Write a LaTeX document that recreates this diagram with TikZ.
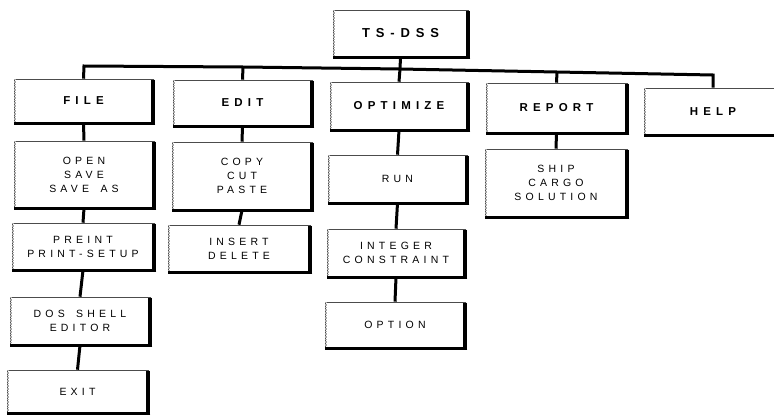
\documentclass[tikz,border=0pt]{standalone}
\usepackage{fontspec}
\newfontfamily\lab[LetterSpace=40,WordSpace=1.6]{Liberation Sans}
\newfontfamily\labB[LetterSpace=45,WordSpace=1.6]{Liberation Sans}
\tikzset{
  mbox/.style={draw=black!70, line width=0.6pt, fill=white, inner sep=0pt,
    align=center, font=\lab\fontsize{10.5}{14}\selectfont},
  topbox/.style={mbox, font=\labB\bfseries\fontsize{11.5}{13}\selectfont},
  conn/.style={line width=3pt, line join=miter},
}
\begin{document}
\begin{tikzpicture}[x=1pt,y=-1pt]
\useasboundingbox (0,0) rectangle (774,415);
\clip (0,0) rectangle (774,415);
% top level
\node[topbox, minimum width=135pt, minimum height=47pt, font=\labB\bfseries\fontsize{13}{15}\selectfont] (ts) at (400.5,33.5) {TS-DSS};
\node[topbox, minimum width=139pt, minimum height=44pt] (file) at (83.5,101) {FILE};
\node[topbox, minimum width=139pt, minimum height=46pt] (edit) at (242.5,103) {EDIT};
\node[topbox, minimum width=138pt, minimum height=48pt] (opt) at (399,106) {OPTIMIZE};
\node[topbox, minimum width=141pt, minimum height=50pt] (rep) at (556.5,108) {REPORT};
\node[topbox, minimum width=138pt, minimum height=47pt] (help) at (713,111.5) {HELP};
% sub menus
\node[mbox, minimum width=140pt, minimum height=67pt] (open) at (84,174.5) {OPEN\\SAVE\\SAVE AS};
\node[mbox, minimum width=142pt, minimum height=47pt] (print) at (83,246.5) {PREINT\\PRINT-SETUP};
\node[mbox, minimum width=140pt, minimum height=48pt] (dos) at (80,321) {DOS SHELL\\EDITOR};
\node[mbox, minimum width=141pt, minimum height=43pt] (exit) at (77.5,391.5) {EXIT};
\node[mbox, minimum width=140pt, minimum height=68pt] (copy) at (242,176) {COPY\\CUT\\PASTE};
\node[mbox, minimum width=142pt, minimum height=47pt] (insert) at (239,248.5) {INSERT\\DELETE};
\node[mbox, minimum width=139pt, minimum height=48pt] (run) at (397.5,179) {RUN};
\node[mbox, minimum width=138pt, minimum height=48pt] (integer) at (396,253) {INTEGER\\CONSTRAINT};
\node[mbox, minimum width=140pt, minimum height=46pt] (option) at (395,325) {OPTION};
\node[mbox, minimum width=142pt, minimum height=68pt] (ship) at (556,183) {SHIP\\CARGO\\SOLUTION};
% shadows and grey left edges
\foreach \n in {ts,file,edit,opt,rep,help,open,print,dos,exit,copy,insert,run,integer,option,ship}{
  \draw[black!35, line width=2.4pt, dash pattern=on 1pt off 0.6pt] ([xshift=1.5pt,yshift=-0.5pt]\n.north west) -- ([xshift=1.5pt,yshift=0.5pt]\n.south west);
  \draw[black, line width=4pt] ([yshift=-1pt]\n.north east) -- ([yshift=-1.25pt]\n.south east);
  \draw[black, line width=2.5pt] ([xshift=2pt]\n.south east) -- (\n.south west);
}
% bus
\coordinate (j1) at (84,66);
\coordinate (j2) at (243,67);
\coordinate (j3) at (400,69);
\coordinate (j4) at (557,72);
\coordinate (j5) at (713,75);
\draw[conn] (ts.south) -- (j3);
\draw[conn] (file.north) -- (j1) -- (j2) -- (j3) -- (j4) -- (j5) -- (help.north);
\draw[conn] (j2) -- (edit.north);
\draw[conn] (j3) -- (opt.north);
\draw[conn] (j4) -- (rep.north);
% columns
\draw[conn] (file.south) -- (open.north);
\draw[conn] (open.south) -- (print.north);
\draw[conn] (print.south) -- (dos.north);
\draw[conn] (dos.south) -- (exit.north);
\draw[conn] (edit.south) -- (copy.north);
\draw[conn] (copy.south) -- (insert.north);
\draw[conn] (opt.south) -- (run.north);
\draw[conn] (run.south) -- (integer.north);
\draw[conn] (integer.south) -- (option.north);
\draw[conn] (rep.south) -- (ship.north);
\end{tikzpicture}
\end{document}
